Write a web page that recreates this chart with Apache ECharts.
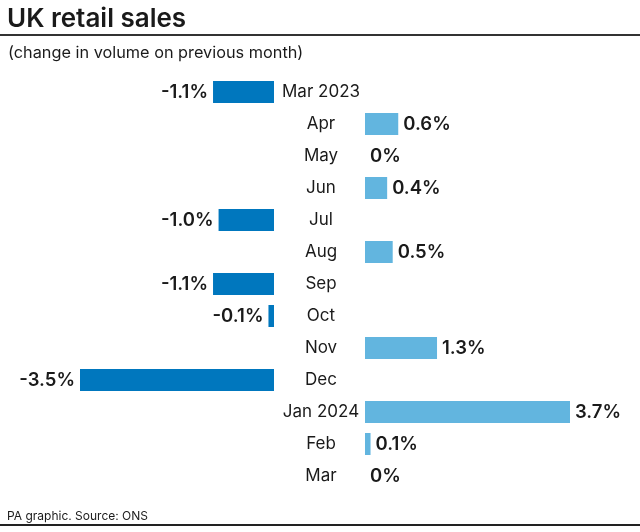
<!DOCTYPE html>
<html>
<head>
<meta charset="utf-8">
<script src="https://cdn.jsdelivr.net/npm/echarts@6/dist/echarts.min.js"></script>
<style>
html,body{margin:0;padding:0;background:#fff;}
#c{width:640px;height:532px;}
</style>
</head>
<body>
<div id="c"></div>
<script>
var categories = ['Mar 2023','Apr','May','Jun','Jul','Aug','Sep','Oct','Nov','Dec','Jan 2024','Feb','Mar'];
var values = [-1.1, 0.6, 0, 0.4, -1.0, 0.5, -1.1, -0.1, 1.3, -3.5, 3.7, 0.1, 0];

var negData = values.map(function(v){ return v < 0 ? v : null; });
var posData = values.map(function(v){ return v >= 0 ? v : null; });
function fmt(v){ return v === 0 ? '0%' : v.toFixed(1) + '%'; }

var FONT = 'Inter';
var chart = echarts.init(document.getElementById('c'), null, {renderer:'canvas'});
chart.setOption({
  animation:false,
  backgroundColor:'#fff',
  title:[
    {text:'UK retail sales', left:7, top:6, padding:0, textStyle:{fontFamily:FONT, fontSize:26, fontWeight:600, color:'#1a1a1a'}},
    {text:'(change in volume on previous month)', left:8, top:45, padding:0, textStyle:{fontFamily:FONT, fontSize:16.3, fontWeight:400, color:'#1a1a1a'}},
    {text:'PA graphic. Source: ONS', left:7, top:510, padding:0, textStyle:{fontFamily:FONT, fontSize:12, fontWeight:400, color:'#1a1a1a'}}
  ],
  graphic:[
    {type:'rect', shape:{x:0, y:34, width:640, height:2}, style:{fill:'#333'}},
    {type:'rect', shape:{x:0, y:524, width:640, height:2}, style:{fill:'#222'}}
  ],
  grid:[
    {left:80, right:366, top:76, bottom:40},
    {left:365, right:70, top:76, bottom:40}
  ],
  xAxis:[
    {gridIndex:0, type:'value', min:-3.5, max:0, show:false},
    {gridIndex:1, type:'value', min:0, max:3.7, show:false}
  ],
  yAxis:[
    {gridIndex:0, type:'category', data:categories, inverse:true, show:false},
    {gridIndex:1, type:'category', data:categories, inverse:true,
     axisLine:{show:false}, axisTick:{show:false}, splitLine:{show:false},
     axisLabel:{show:true, align:'center', margin:44, fontFamily:FONT, fontSize:17, color:'#1a1a1a'}}
  ],
  series:[
    {type:'bar', xAxisIndex:0, yAxisIndex:0, data:negData, barWidth:22,
     itemStyle:{color:'#0077be'},
     label:{show:true, position:'left', distance:5, formatter:function(p){return fmt(p.value);},
            fontFamily:FONT, fontSize:18.5, fontWeight:600, color:'#1a1a1a'}},
    {type:'bar', xAxisIndex:1, yAxisIndex:1, data:posData, barWidth:22,
     itemStyle:{color:'#62b5df'},
     label:{show:true, position:'right', distance:5, formatter:function(p){return fmt(p.value);},
            fontFamily:FONT, fontSize:18.5, fontWeight:600, color:'#1a1a1a'}}
  ]
});
</script>
</body>
</html>
